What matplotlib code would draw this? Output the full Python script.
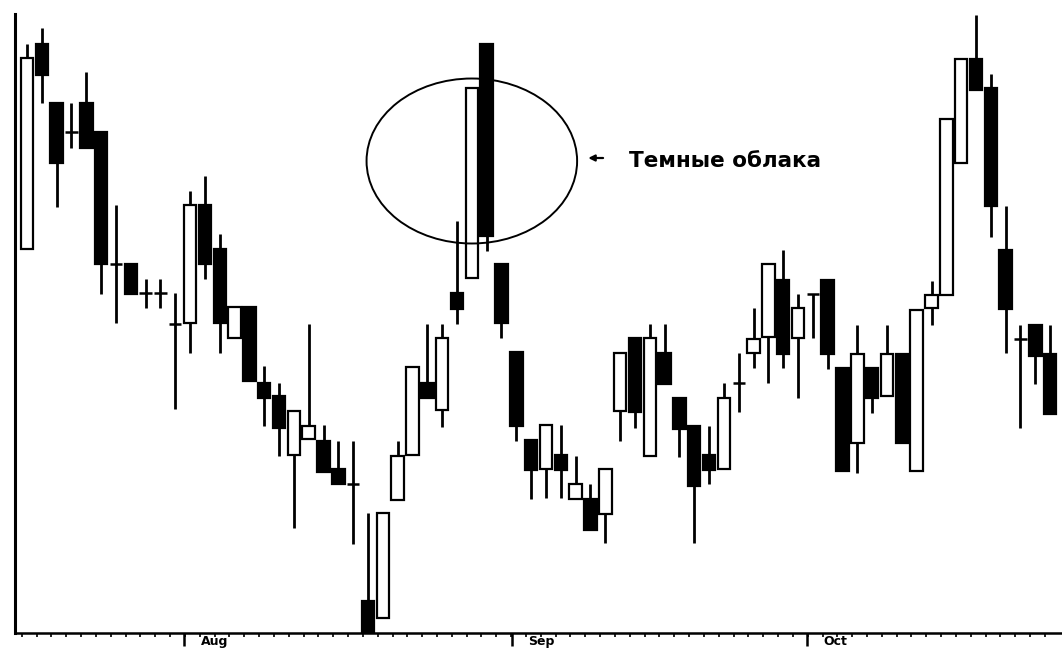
import matplotlib.pyplot as plt
from matplotlib.patches import Ellipse

# prices (arbitrary units, no scale shown)
opens = [38.4, 58.9, 53.0, 50.1, 53.0, 50.1, 36.9, 36.9, 34.0, 34.0,
         30.9, 31.0, 42.8, 38.4, 29.5, 32.6, 25.0, 23.7, 17.8, 19.4,
         19.2, 16.4, 14.9, 3.2, 1.5, 13.3, 17.8, 25.0, 22.3, 34.0,
         35.5, 58.9, 36.9, 28.1, 19.3, 16.4, 17.8, 13.4, 13.4, 11.9,
         22.2, 29.5, 17.7, 28.0, 23.5, 20.7, 17.8, 16.4, 25.0, 28.0,
         29.6, 35.3, 29.5, 33.9, 35.3, 26.5, 19.0, 26.5, 23.7, 27.9,
         16.2, 32.5, 33.8, 47.0, 57.4, 54.5, 38.3, 29.4, 30.8, 27.9]
highs = [58.9, 60.5, 53.0, 53.0, 56.1, 50.1, 42.8, 36.9, 35.4, 35.4,
         34.0, 44.2, 45.7, 39.9, 32.6, 32.6, 26.7, 25.0, 22.2, 30.9,
         20.8, 19.2, 19.2, 12.0, 12.0, 19.2, 26.6, 30.9, 30.9, 41.2,
         54.5, 58.9, 36.9, 28.1, 19.3, 20.8, 20.8, 17.7, 14.9, 16.4,
         28.0, 29.5, 30.9, 30.9, 23.5, 20.7, 20.7, 25.0, 28.0, 32.5,
         36.9, 38.3, 33.9, 33.9, 35.3, 26.5, 30.8, 26.5, 30.8, 27.9,
         32.3, 35.2, 51.4, 57.4, 61.8, 55.9, 42.7, 30.8, 30.8, 30.8]
lows = [38.4, 53.0, 42.6, 48.5, 48.5, 33.9, 31.0, 33.9, 32.5, 32.5,
        22.4, 28.0, 35.4, 28.0, 29.5, 25.2, 20.7, 17.7, 10.5, 19.4,
        16.1, 14.9, 8.9, 0.0, 1.5, 13.3, 17.8, 23.5, 20.6, 30.9,
        35.5, 38.2, 29.5, 19.2, 13.4, 13.5, 13.5, 13.4, 10.3, 9.0,
        19.2, 20.5, 17.7, 24.9, 17.6, 9.0, 14.9, 16.4, 22.1, 26.5,
        25.0, 26.5, 23.5, 29.5, 26.4, 16.2, 16.0, 22.0, 23.7, 19.0,
        16.2, 30.8, 33.8, 47.0, 54.3, 39.6, 28.0, 20.5, 24.9, 21.9]
closes = [57.5, 55.8, 47.0, 50.1, 48.5, 36.9, 36.9, 33.9, 34.0, 34.0,
          30.9, 42.8, 36.9, 31.0, 32.6, 25.2, 23.5, 20.5, 22.2, 20.7,
          16.1, 14.9, 14.9, 0.0, 12.0, 17.7, 26.6, 23.5, 29.5, 32.4,
          54.5, 39.7, 31.0, 20.7, 16.3, 20.8, 16.3, 14.9, 10.3, 16.4,
          28.0, 22.1, 29.5, 24.9, 20.4, 14.7, 16.3, 23.5, 25.0, 29.4,
          36.9, 27.9, 32.5, 33.9, 27.9, 16.2, 27.9, 23.5, 27.9, 19.0,
          32.3, 33.8, 51.4, 57.4, 54.3, 42.7, 32.4, 29.4, 27.7, 21.9]

month_pos = [10.6, 32.7, 52.6]
month_names = ['Aug', 'Sep', 'Oct']
note = 'Темные облака'


def main():
    fig = plt.figure(figsize=(10.62, 6.49), dpi=100)
    ax = fig.add_axes([0.0141, 0.0247, 0.9859, 0.9537])

    xs = list(range(len(opens)))
    w = 0.84
    ax.vlines(xs, lows, highs, color='black', lw=2.0, zorder=1)
    for i in xs:
        o, c = opens[i], closes[i]
        if o == c:
            ax.hlines(o, i - w / 2, i + w / 2, color='black', lw=1.8, zorder=2)
            continue
        face = 'white' if c > o else 'black'
        ax.bar(i, abs(c - o), bottom=min(o, c), width=w, color=face,
               edgecolor='black', linewidth=1.6, zorder=2)

    # the circled pattern
    ax.add_patch(Ellipse((30.0, 47.2), 14.2, 16.5, fill=False,
                         edgecolor='black', lw=1.4, zorder=3))
    ax.annotate('', xy=(37.85, 47.5), xytext=(38.85, 47.5),
                arrowprops=dict(arrowstyle='-|>', color='black', lw=1.6,
                                mutation_scale=9, shrinkA=0, shrinkB=0))
    ax.text(40.6, 47.2, note, fontsize=15.5, fontweight='bold', va='center',
            ha='left', family='DejaVu Sans')

    ax.set_xlim(-0.81, 69.8)
    ax.set_ylim(0, 61.9)
    ax.spines['top'].set_visible(False)
    ax.spines['right'].set_visible(False)
    ax.spines['left'].set_linewidth(2.2)
    ax.spines['bottom'].set_linewidth(1.8)

    ax.set_yticks([])
    ax.set_xticks(month_pos)
    ax.set_xticklabels([])
    ax.set_xticks([i - 0.35 for i in xs], minor=True)
    ax.tick_params(axis='x', which='major', direction='out', length=9, width=1.8)
    ax.tick_params(axis='x', which='minor', direction='out', length=3, width=1.2)
    for p, name in zip(month_pos, month_names):
        ax.annotate(name, xy=(p, 0), xycoords=('data', 'axes fraction'),
                    xytext=(12, -1.5), textcoords='offset points',
                    fontsize=9, fontweight='bold', ha='left', va='top')

    fig.savefig('out.png', dpi=100)


if __name__ == '__main__':
    main()
